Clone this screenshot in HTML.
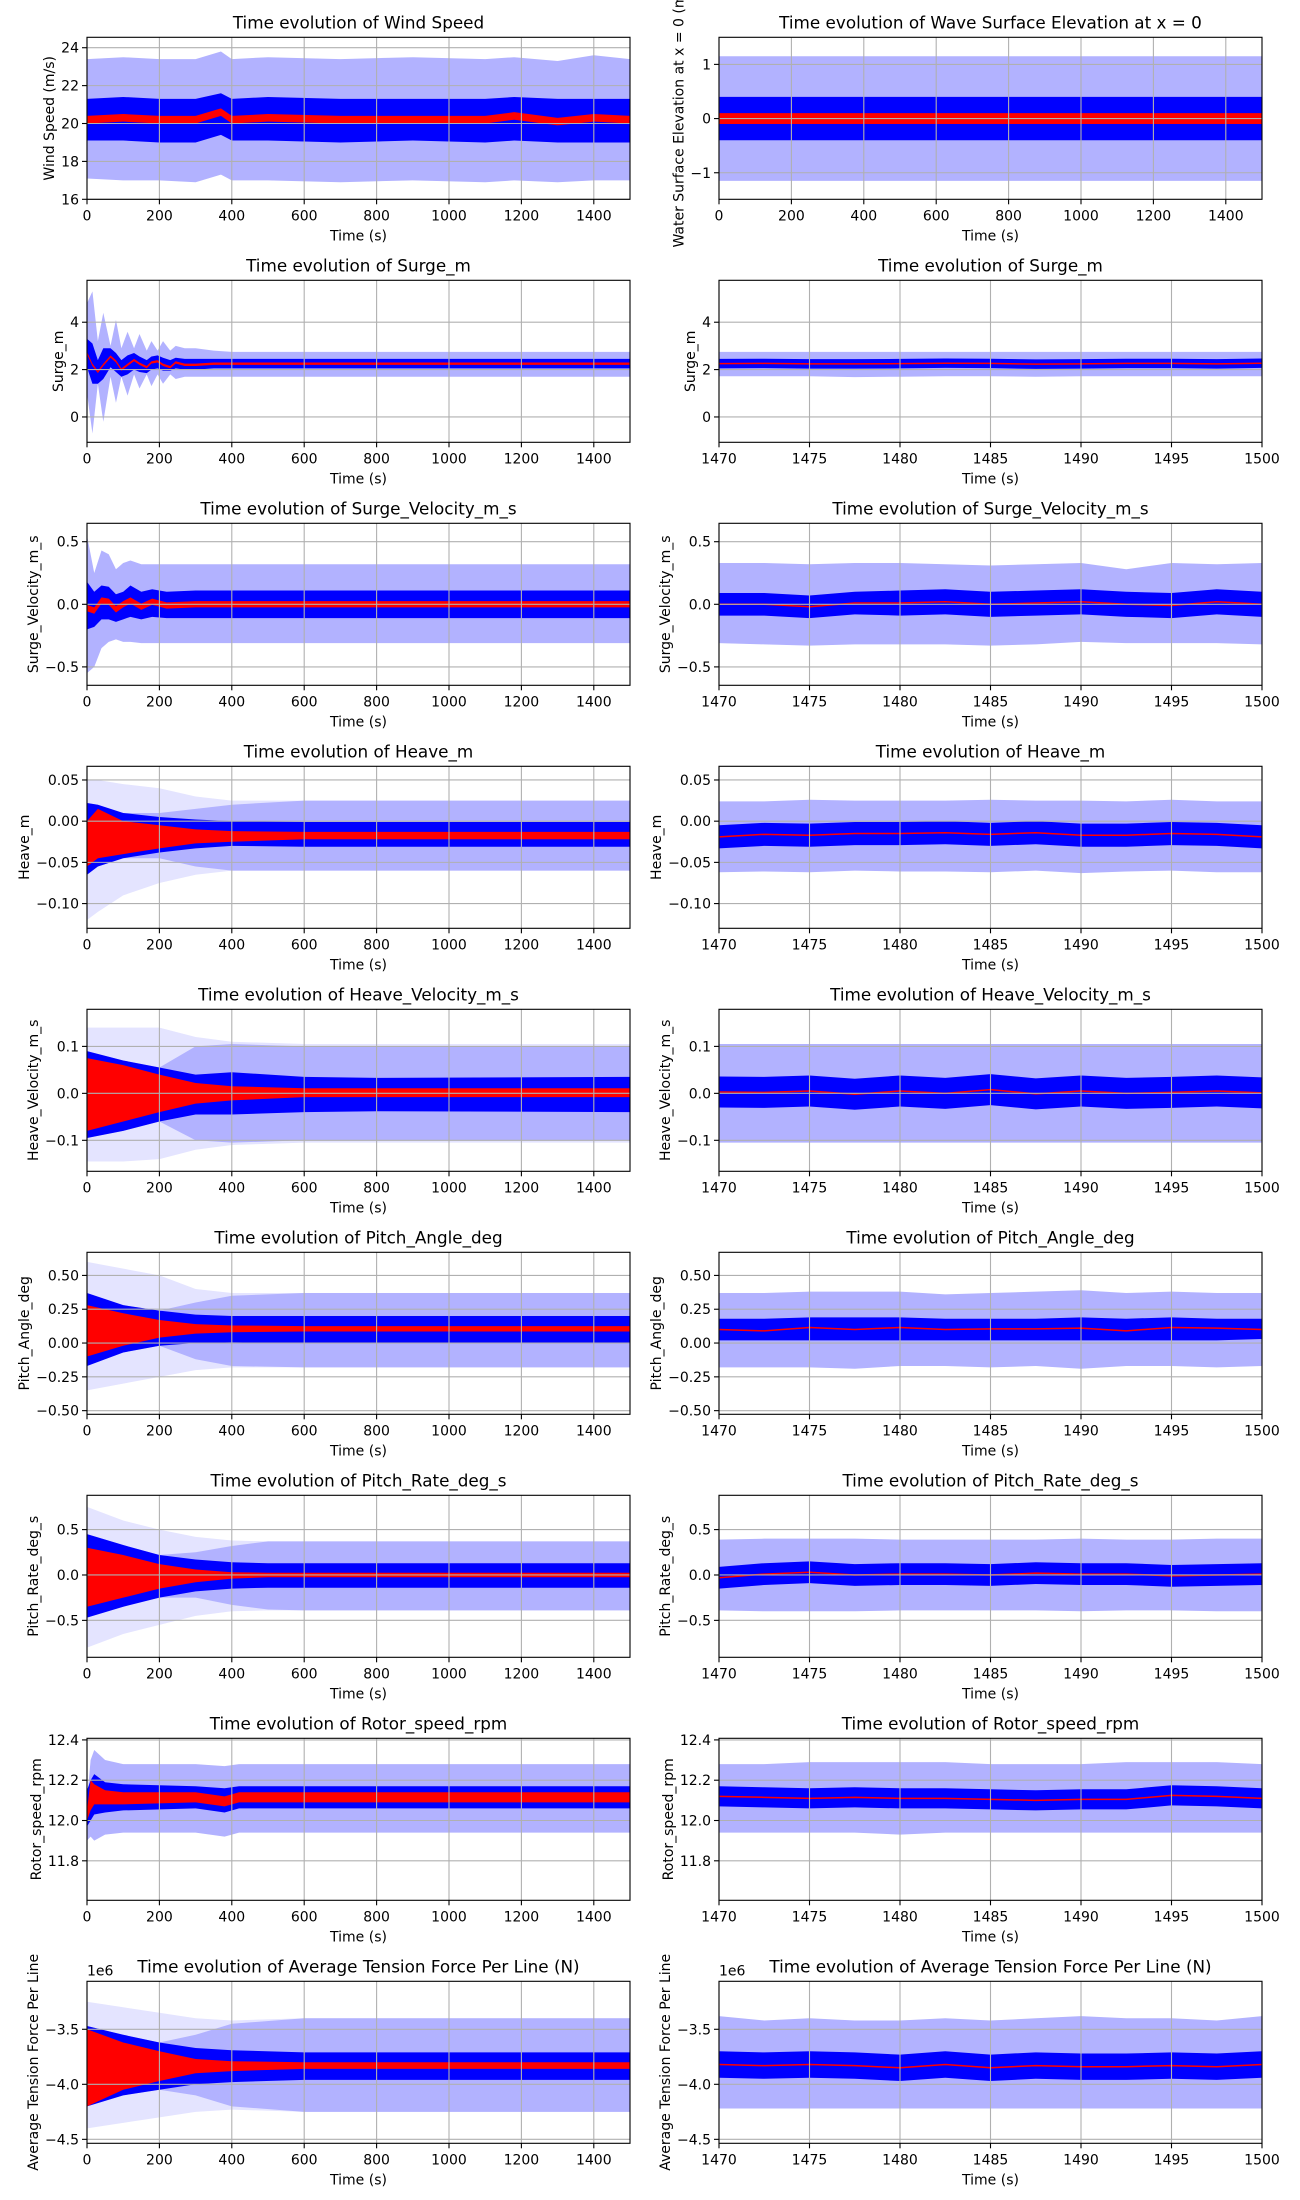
<!DOCTYPE html>
<html><head><meta charset="utf-8">
<style>
html,body{margin:0;padding:0;background:#fff;}
svg{display:block;font-family:"DejaVu Sans","Liberation Sans",sans-serif;}
</style></head>
<body>
<svg id="fig" width="1300" height="2200" viewBox="0 0 1300 2200" xmlns="http://www.w3.org/2000/svg"></svg>
<script>
// ---------- DATA ----------
const tL = [0,20,50,100,150,200,300,400,600,800,1000,1200,1400,1500];
const tR = [1470,1472.5,1475,1477.5,1480,1482.5,1485,1487.5,1490,1492.5,1495,1497.5,1500];

// Wind speed (left)
const windT = [0,100,200,300,370,400,500,700,900,1100,1180,1300,1400,1500];
const windRedHi = [20.4,20.5,20.4,20.4,20.8,20.4,20.5,20.4,20.4,20.4,20.6,20.3,20.5,20.4];
const windRedLo = [20.0,20.1,20.0,20.0,20.4,20.0,20.1,20.0,20.0,20.0,20.2,19.9,20.1,20.0];
const windDarkHi = [21.3,21.4,21.3,21.3,21.6,21.3,21.4,21.3,21.3,21.3,21.4,21.3,21.3,21.3];
const windDarkLo = [19.1,19.1,19.0,19.0,19.4,19.1,19.1,19.0,19.1,19.0,19.1,19.0,19.0,19.0];
const windLightHi = [23.4,23.5,23.4,23.4,23.8,23.4,23.5,23.4,23.5,23.4,23.5,23.3,23.6,23.4];
const windLightLo = [17.1,17.0,17.0,16.9,17.3,17.0,17.0,16.9,17.0,16.9,17.0,16.9,17.0,17.0];

// Wave elevation (right, full time)
const waveT = [0,300,600,900,1200,1500];
const waveRedHi = [0.1,0.1,0.1,0.1,0.1,0.1];
const waveRedLo = [-0.1,-0.1,-0.1,-0.1,-0.1,-0.1];
const waveDarkHi = [0.4,0.4,0.4,0.4,0.4,0.4];
const waveDarkLo = [-0.4,-0.4,-0.4,-0.4,-0.4,-0.4];
const waveLightHi = [1.15,1.15,1.15,1.15,1.15,1.15];
const waveLightLo = [-1.15,-1.15,-1.15,-1.15,-1.15,-1.15];

// Surge (left)
const surgeT = [0,15,30,45,65,80,95,112,130,145,165,178,195,210,230,245,270,300,350,400,800,1500];
const surgeMean = [2.7,2.2,1.9,2.2,2.55,2.35,2.0,2.2,2.4,2.25,2.1,2.3,2.35,2.2,2.1,2.3,2.2,2.2,2.25,2.25,2.25,2.25];
const surgeDarkHi = [3.3,3.1,2.4,2.9,2.9,2.7,2.4,2.6,2.7,2.55,2.4,2.55,2.6,2.5,2.4,2.5,2.45,2.45,2.45,2.45,2.45,2.45];
const surgeDarkLo = [2.1,1.4,1.4,1.6,2.1,1.9,1.7,1.8,2.0,1.9,1.85,2.0,2.05,1.95,1.95,2.05,2.0,2.0,2.05,2.05,2.05,2.05];
const surgeLightHi = [4.8,5.3,3.2,4.4,3.0,4.1,2.9,3.6,2.9,3.5,2.8,3.2,2.8,3.2,2.8,3.0,2.9,2.9,2.8,2.75,2.75,2.75];
const surgeLightLo = [1.0,-0.7,1.4,-0.2,1.7,0.6,1.7,0.9,1.8,1.2,1.8,1.3,1.8,1.4,1.8,1.6,1.7,1.7,1.7,1.7,1.7,1.7];

// Surge velocity (left)
const svT = [0,20,40,60,80,100,120,150,180,220,300,800,1500];
const svMean = [-0.03,-0.05,0.03,0.02,-0.04,0.0,0.03,-0.02,0.02,-0.01,0,0,0];
const svDarkHi = [0.18,0.1,0.15,0.14,0.08,0.1,0.15,0.1,0.12,0.1,0.11,0.11,0.11];
const svDarkLo = [-0.2,-0.18,-0.12,-0.12,-0.14,-0.12,-0.1,-0.12,-0.1,-0.11,-0.11,-0.11,-0.11];
const svLightHi = [0.55,0.25,0.43,0.4,0.28,0.33,0.35,0.32,0.32,0.32,0.32,0.32,0.32];
const svLightLo = [-0.55,-0.5,-0.35,-0.3,-0.28,-0.3,-0.3,-0.31,-0.31,-0.31,-0.31,-0.31,-0.31];

// Heave (left)
const heaveT = [0,30,100,200,300,400,600,1500];
const heaveRedHi = [0.0,0.015,0.0,-0.005,-0.01,-0.012,-0.013,-0.013];
const heaveRedLo = [-0.055,-0.045,-0.04,-0.033,-0.027,-0.025,-0.022,-0.022];
const heaveDarkHi = [0.022,0.02,0.01,0.005,0.002,0.0,-0.001,-0.001];
const heaveDarkLo = [-0.065,-0.055,-0.045,-0.038,-0.033,-0.03,-0.031,-0.031];
const heaveLightHi = [0.022,0.02,0.01,0.01,0.015,0.02,0.025,0.025];
const heaveLightLo = [-0.065,-0.055,-0.045,-0.045,-0.055,-0.06,-0.06,-0.06];
const heaveFaintHi = [0.05,0.05,0.045,0.04,0.03,0.025,0.025,0.025];
const heaveFaintLo = [-0.12,-0.11,-0.09,-0.075,-0.065,-0.06,-0.06,-0.06];

// Heave velocity (left)
const hvT = [0,100,200,300,400,600,800,1500];
const hvRedHi = [0.075,0.06,0.04,0.022,0.015,0.011,0.011,0.011];
const hvRedLo = [-0.08,-0.06,-0.04,-0.022,-0.015,-0.008,-0.008,-0.008];
const hvDarkHi = [0.09,0.07,0.055,0.04,0.045,0.035,0.033,0.035];
const hvDarkLo = [-0.095,-0.08,-0.06,-0.045,-0.045,-0.04,-0.038,-0.04];
const hvLightHi = [0.09,0.07,0.055,0.1,0.105,0.1,0.1,0.1];
const hvLightLo = [-0.095,-0.08,-0.06,-0.1,-0.105,-0.1,-0.1,-0.1];
const hvFaintHi = [0.14,0.14,0.14,0.12,0.11,0.105,0.105,0.105];
const hvFaintLo = [-0.145,-0.145,-0.14,-0.12,-0.11,-0.105,-0.105,-0.105];

// Pitch angle (left)
const paT = [0,100,200,300,400,600,1500];
const paRedHi = [0.28,0.22,0.17,0.14,0.13,0.125,0.125];
const paRedLo = [-0.1,-0.02,0.04,0.07,0.08,0.085,0.085];
const paDarkHi = [0.37,0.28,0.24,0.21,0.2,0.2,0.2];
const paDarkLo = [-0.17,-0.07,-0.02,0.0,0.005,0.0,0.0];
const paLightHi = [0.37,0.28,0.24,0.3,0.35,0.37,0.37];
const paLightLo = [-0.17,-0.07,-0.02,-0.12,-0.17,-0.18,-0.18];
const paFaintHi = [0.6,0.55,0.5,0.4,0.37,0.37,0.37];
const paFaintLo = [-0.35,-0.3,-0.25,-0.2,-0.18,-0.18,-0.18];

// Pitch rate (left)
const prT = [0,100,200,300,400,500,600,1500];
const prRedHi = [0.3,0.22,0.12,0.06,0.03,0.025,0.025,0.025];
const prRedLo = [-0.35,-0.25,-0.15,-0.08,-0.04,-0.025,-0.025,-0.025];
const prDarkHi = [0.45,0.33,0.22,0.17,0.14,0.13,0.13,0.13];
const prDarkLo = [-0.47,-0.35,-0.25,-0.18,-0.15,-0.14,-0.14,-0.14];
const prLightHi = [0.45,0.33,0.22,0.25,0.32,0.37,0.37,0.37];
const prLightLo = [-0.47,-0.35,-0.25,-0.25,-0.33,-0.38,-0.39,-0.39];
const prFaintHi = [0.75,0.6,0.5,0.42,0.38,0.37,0.37,0.37];
const prFaintLo = [-0.8,-0.65,-0.55,-0.45,-0.4,-0.39,-0.39,-0.39];

// Rotor speed (left)
const rsT = [0,10,20,50,100,300,380,420,800,1500];
const rsRedHi = [12.05,12.2,12.18,12.15,12.14,12.14,12.12,12.14,12.14,12.14];
const rsRedLo = [12.0,12.05,12.08,12.08,12.08,12.09,12.07,12.09,12.09,12.09];
const rsDarkHi = [12.15,12.2,12.23,12.19,12.18,12.17,12.16,12.17,12.17,12.17];
const rsDarkLo = [11.97,12.0,12.03,12.04,12.05,12.06,12.04,12.06,12.06,12.06];
const rsLightHi = [12.1,12.3,12.35,12.3,12.28,12.28,12.27,12.28,12.28,12.28];
const rsLightLo = [11.9,11.92,11.9,11.93,11.94,11.94,11.92,11.94,11.94,11.94];

// Tension (left, units 1e6 N)
const tnT = [0,100,200,300,400,600,1500];
const tnRedHi = [-3.5,-3.62,-3.7,-3.77,-3.79,-3.8,-3.8];
const tnRedLo = [-4.2,-4.05,-3.97,-3.9,-3.88,-3.86,-3.86];
const tnDarkHi = [-3.47,-3.55,-3.62,-3.67,-3.69,-3.71,-3.71];
const tnDarkLo = [-4.2,-4.1,-4.05,-4.0,-3.98,-3.96,-3.96];
const tnLightHi = [-3.47,-3.55,-3.62,-3.55,-3.45,-3.4,-3.4];
const tnLightLo = [-4.2,-4.1,-4.05,-4.1,-4.2,-4.25,-4.25];
const tnFaintHi = [-3.25,-3.3,-3.35,-3.4,-3.42,-3.4,-3.4];
const tnFaintLo = [-4.4,-4.35,-4.3,-4.25,-4.23,-4.25,-4.25];

// Right column (1470-1500 s)
const surgeRMean = [2.25,2.26,2.24,2.24,2.25,2.27,2.26,2.23,2.24,2.26,2.26,2.24,2.27];
const surgeRDark = [0.2,0.2,0.2,0.2,0.2,0.2,0.2,0.2,0.2,0.2,0.2,0.2,0.2];
const surgeRLightHi = [2.75,2.75,2.75,2.75,2.75,2.75,2.75,2.75,2.75,2.75,2.75,2.75,2.75];
const surgeRLightLo = [1.72,1.72,1.72,1.68,1.7,1.72,1.72,1.7,1.72,1.72,1.72,1.72,1.72];

const svRMean = [0,0,-0.02,0.01,0.01,0.02,0,0.01,0.02,0.0,-0.01,0.02,0.0];
const svRDark = [0.09,0.09,0.09,0.09,0.1,0.1,0.1,0.1,0.1,0.1,0.1,0.1,0.1];
const svRLightHi = [0.33,0.33,0.32,0.33,0.33,0.32,0.31,0.32,0.33,0.28,0.33,0.32,0.33];
const svRLightLo = [-0.31,-0.32,-0.33,-0.32,-0.32,-0.32,-0.33,-0.32,-0.3,-0.31,-0.31,-0.31,-0.32];

const heaveRMean = [-0.019,-0.016,-0.017,-0.015,-0.015,-0.014,-0.016,-0.014,-0.017,-0.017,-0.015,-0.016,-0.019];
const heaveRDark = [0.014,0.014,0.014,0.014,0.014,0.014,0.014,0.014,0.014,0.014,0.014,0.014,0.014];
const heaveRLightHi = [0.024,0.024,0.026,0.025,0.025,0.025,0.026,0.025,0.025,0.024,0.026,0.024,0.024];
const heaveRLightLo = [-0.062,-0.061,-0.062,-0.06,-0.061,-0.061,-0.062,-0.06,-0.063,-0.061,-0.06,-0.062,-0.062];

const hvRMean = [0.003,0.002,0.005,-0.002,0.005,0.0,0.008,-0.001,0.005,0.0,0.002,0.005,0.001];
const hvRDark = [0.033,0.033,0.033,0.033,0.033,0.033,0.033,0.033,0.033,0.033,0.033,0.033,0.033];
const hvRLight = [0.105,0.105,0.105,0.105,0.105,0.105,0.105,0.105,0.105,0.105,0.105,0.105,0.105];

const paRMean = [0.1,0.09,0.115,0.1,0.115,0.1,0.105,0.105,0.11,0.09,0.115,0.11,0.1];
const paRDarkHi = [0.18,0.18,0.19,0.19,0.19,0.18,0.18,0.18,0.19,0.18,0.19,0.18,0.18];
const paRDarkLo = [0.02,0.02,0.02,0.02,0.02,0.02,0.02,0.02,0.02,0.02,0.02,0.02,0.03];
const paRLightHi = [0.37,0.37,0.38,0.38,0.38,0.36,0.37,0.38,0.39,0.37,0.38,0.37,0.37];
const paRLightLo = [-0.18,-0.18,-0.18,-0.19,-0.17,-0.17,-0.18,-0.17,-0.19,-0.17,-0.17,-0.18,-0.17];

const prRMean = [-0.03,0.01,0.03,0.0,0.01,0.01,0.0,0.02,0.01,0.01,-0.01,0.0,0.01];
const prRDark = [0.12,0.12,0.12,0.12,0.12,0.12,0.12,0.12,0.12,0.12,0.12,0.12,0.12];
const prRLight = [0.39,0.4,0.4,0.4,0.39,0.39,0.39,0.39,0.4,0.39,0.39,0.4,0.4];

const rsRMean = [12.12,12.115,12.11,12.115,12.11,12.11,12.105,12.1,12.105,12.105,12.125,12.12,12.11];
const rsRDark = [0.05,0.05,0.05,0.05,0.05,0.05,0.05,0.05,0.05,0.05,0.05,0.05,0.05];
const rsRLightHi = [12.28,12.28,12.29,12.29,12.29,12.29,12.28,12.28,12.28,12.29,12.29,12.29,12.28];
const rsRLightLo = [11.94,11.94,11.94,11.94,11.93,11.94,11.94,11.94,11.94,11.94,11.94,11.94,11.94];

const tnRMean = [-3.82,-3.83,-3.82,-3.83,-3.85,-3.82,-3.85,-3.83,-3.84,-3.84,-3.83,-3.84,-3.82];
const tnRDark = [0.12,0.12,0.12,0.12,0.12,0.12,0.12,0.12,0.12,0.12,0.12,0.12,0.12];
const tnRLightHi = [-3.38,-3.42,-3.4,-3.42,-3.42,-3.4,-3.42,-3.4,-3.38,-3.4,-3.4,-3.42,-3.38];
const tnRLightLo = [-4.22,-4.22,-4.22,-4.22,-4.22,-4.22,-4.22,-4.22,-4.22,-4.22,-4.22,-4.22,-4.22];

// Tick labels
const xTicksL = [0,200,400,600,800,1000,1200,1400];
const xTicksR = [1470,1475,1480,1485,1490,1495,1500];
const windTicks = [16,18,20,22,24];
const waveTicks = [-1,0,1];
const surgeTicks = [0,2,4];
const svTicks = [-0.5,0.0,0.5];
const heaveTicks = [-0.10,-0.05,0.00,0.05];
const hvTicks = [-0.1,0.0,0.1];
const paTicks = [-0.50,-0.25,0.00,0.25,0.50];
const prTicks = [-0.5,0.0,0.5];
const rsTicks = [11.8,12.0,12.2,12.4];
const tnTicks = [-4.5,-4.0,-3.5];

// ---------- DRAWING ----------
const NS = 'http://www.w3.org/2000/svg';
const svg = document.getElementById('fig');
function el(tag, attrs, parent){ const e=document.createElementNS(NS,tag); for(const k in attrs) e.setAttribute(k,attrs[k]); (parent||svg).appendChild(e); return e; }
const add = (a,b)=>a.map((v,i)=>v+b[i]);
const sub = (a,b)=>a.map((v,i)=>v-b[i]);
const neg = a=>a.map(v=>-v);
function fmt(v,dec){ const s=Math.abs(v).toFixed(dec); return (v<0?'\u2212':'')+s; }

const LEFT=[87,630], RIGHT=[719,1262];
const ROW0=37.3, PITCH=243, H=162;

function panel(cfg){
  const [x0,x1]=cfg.col; const top=ROW0+PITCH*cfg.row, bot=top+H;
  const sx=v=>x0+(v-cfg.xlim[0])/(cfg.xlim[1]-cfg.xlim[0])*(x1-x0);
  const sy=v=>bot-(v-cfg.ylim[0])/(cfg.ylim[1]-cfg.ylim[0])*H;
  const g=el('g',{});
  
  
  const cid='clip'+cfg.name;
  const cp=el('clipPath',{id:cid},g); el('rect',{x:x0,y:top,width:x1-x0,height:H},cp);
  const plot=el('g',{'clip-path':'url(#'+cid+')'},g);
  function band(t,hi,lo,fill,name){
    let d='M'+t.map((v,i)=>sx(v).toFixed(2)+','+sy(hi[i]).toFixed(2)).join('L');
    for(let i=t.length-1;i>=0;i--) d+='L'+sx(t[i]).toFixed(2)+','+sy(lo[i]).toFixed(2);
    const p=el('path',{d:d+'Z',fill:fill},plot);
    
    
  }
  cfg.bands.forEach(b=>band(cfg.t,b.hi,b.lo,b.fill,b.name));
  if(cfg.line){
    const p=el('polyline',{points:cfg.t.map((v,i)=>sx(v).toFixed(2)+','+sy(cfg.line[i]).toFixed(2)).join(' '),fill:'none',stroke:'#ff0000','stroke-width':cfg.lw||1.5},plot);
    
    
  }
  cfg.xt.forEach(v=>el('line',{x1:sx(v),x2:sx(v),y1:top,y2:bot,stroke:'#b0b0b0','stroke-width':1.1},g));
  cfg.yt.forEach(v=>el('line',{x1:x0,x2:x1,y1:sy(v),y2:sy(v),stroke:'#b0b0b0','stroke-width':1.1},g));
  el('rect',{x:x0,y:top,width:x1-x0,height:H,fill:'none',stroke:'#000','stroke-width':1.1},g);
  cfg.xt.forEach(v=>{
    el('line',{x1:sx(v),x2:sx(v),y1:bot,y2:bot+5,stroke:'#000','stroke-width':1.1},g);
    const t=el('text',{x:sx(v),y:bot+21,'text-anchor':'middle','font-size':14},g); t.textContent=String(v);
    
    
  });
  const xl=el('text',{x:(x0+x1)/2,y:bot+41,'text-anchor':'middle','font-size':14},g); xl.textContent='Time (s)';
  
  
  let maxW=0;
  cfg.yt.forEach(v=>{
    el('line',{x1:x0-5,x2:x0,y1:sy(v),y2:sy(v),stroke:'#000','stroke-width':1.1},g);
    const t=el('text',{x:x0-8,y:sy(v)+5,'text-anchor':'end','font-size':14},g); t.textContent=fmt(v,cfg.dec);
    
    
    maxW=Math.max(maxW,t.getComputedTextLength());
  });
  const lx=x0-8-maxW-7;
  const yl=el('text',{x:lx,y:(top+bot)/2,'text-anchor':'middle','font-size':14,transform:'rotate(-90 '+lx+' '+(top+bot)/2+')'},g);
  yl.textContent=cfg.ylabel;
  
  
  const ti=el('text',{x:(x0+x1)/2,y:top-9,'text-anchor':'middle','font-size':16.8},g); ti.textContent=cfg.title;
  
  
  if(cfg.offset){ const o=el('text',{x:x0,y:top-6,'font-size':14},g); o.textContent=cfg.offset;
    
     }
}
const LB='#b2b2ff', DB='#0000ff', RD='#ff0000', FB='#e4e4ff';
function std(hiL,loL,hiD,loD,hiR,loR,fH,fL){
  const b=[];
  if(fH) b.push({hi:fH,lo:fL,fill:FB,name:'faint-band'});
  b.push({hi:hiL,lo:loL,fill:LB,name:'outer-band'});
  b.push({hi:hiD,lo:loD,fill:DB,name:'inner-band'});
  if(hiR) b.push({hi:hiR,lo:loR,fill:RD,name:'mean-band'});
  return b;
}
const XL=[0,1500], XR=[1470,1500];
const T='Time evolution of ';
panel({name:'wind',row:0,col:LEFT,xlim:XL,ylim:[16,24.55],xt:xTicksL,yt:windTicks,dec:0,t:windT,title:T+'Wind Speed',ylabel:'Wind Speed (m/s)',bands:std(windLightHi,windLightLo,windDarkHi,windDarkLo,windRedHi,windRedLo)});
panel({name:'wave',row:0,col:RIGHT,xlim:XL,ylim:[-1.49,1.5],xt:xTicksL,yt:waveTicks,dec:0,t:waveT,title:T+'Wave Surface Elevation at x = 0',ylabel:'Water Surface Elevation at x = 0 (m)',bands:std(waveLightHi,waveLightLo,waveDarkHi,waveDarkLo,waveRedHi,waveRedLo)});
panel({name:'surge-left',row:1,col:LEFT,xlim:XL,ylim:[-1.07,5.77],xt:xTicksL,yt:surgeTicks,dec:0,t:surgeT,title:T+'Surge_m',ylabel:'Surge_m',bands:std(surgeLightHi,surgeLightLo,surgeDarkHi,surgeDarkLo,add(surgeMean,surgeMean.map(()=>0.05)),sub(surgeMean,surgeMean.map(()=>0.05)))});
panel({name:'surge-vel-left',row:2,col:LEFT,xlim:XL,ylim:[-0.647,0.647],xt:xTicksL,yt:svTicks,dec:1,t:svT,title:T+'Surge_Velocity_m_s',ylabel:'Surge_Velocity_m_s',bands:std(svLightHi,svLightLo,svDarkHi,svDarkLo,svMean.map(v=>v+0.025),svMean.map(v=>v-0.025))});
panel({name:'heave-left',row:3,col:LEFT,xlim:XL,ylim:[-0.13,0.0666],xt:xTicksL,yt:heaveTicks,dec:2,t:heaveT,title:T+'Heave_m',ylabel:'Heave_m',bands:std(heaveLightHi,heaveLightLo,heaveDarkHi,heaveDarkLo,heaveRedHi,heaveRedLo,heaveFaintHi,heaveFaintLo)});
panel({name:'heave-vel-left',row:4,col:LEFT,xlim:XL,ylim:[-0.166,0.179],xt:xTicksL,yt:hvTicks,dec:1,t:hvT,title:T+'Heave_Velocity_m_s',ylabel:'Heave_Velocity_m_s',bands:std(hvLightHi,hvLightLo,hvDarkHi,hvDarkLo,hvRedHi,hvRedLo,hvFaintHi,hvFaintLo)});
panel({name:'pitch-left',row:5,col:LEFT,xlim:XL,ylim:[-0.527,0.671],xt:xTicksL,yt:paTicks,dec:2,t:paT,title:T+'Pitch_Angle_deg',ylabel:'Pitch_Angle_deg',bands:std(paLightHi,paLightLo,paDarkHi,paDarkLo,paRedHi,paRedLo,paFaintHi,paFaintLo)});
panel({name:'pitch-rate-left',row:6,col:LEFT,xlim:XL,ylim:[-0.907,0.878],xt:xTicksL,yt:prTicks,dec:1,t:prT,title:T+'Pitch_Rate_deg_s',ylabel:'Pitch_Rate_deg_s',bands:std(prLightHi,prLightLo,prDarkHi,prDarkLo,prRedHi,prRedLo,prFaintHi,prFaintLo)});
panel({name:'rotor-left',row:7,col:LEFT,xlim:XL,ylim:[11.604,12.408],xt:xTicksL,yt:rsTicks,dec:1,t:rsT,title:T+'Rotor_speed_rpm',ylabel:'Rotor_speed_rpm',bands:std(rsLightHi,rsLightLo,rsDarkHi,rsDarkLo,rsRedHi,rsRedLo)});
panel({name:'tension-left',row:8,col:LEFT,xlim:XL,ylim:[-4.536,-3.064],xt:xTicksL,yt:tnTicks,dec:1,t:tnT,title:T+'Average Tension Force Per Line (N)',ylabel:'Average Tension Force Per Line',offset:'1e6',bands:std(tnLightHi,tnLightLo,tnDarkHi,tnDarkLo,tnRedHi,tnRedLo,tnFaintHi,tnFaintLo)});
panel({name:'surge-right',row:1,col:RIGHT,xlim:XR,ylim:[-1.07,5.77],xt:xTicksR,yt:surgeTicks,dec:0,t:tR,title:T+'Surge_m',ylabel:'Surge_m',line:surgeRMean,bands:std(surgeRLightHi,surgeRLightLo,add(surgeRMean,surgeRDark),sub(surgeRMean,surgeRDark))});
panel({name:'surge-vel-right',row:2,col:RIGHT,xlim:XR,ylim:[-0.647,0.647],xt:xTicksR,yt:svTicks,dec:1,t:tR,title:T+'Surge_Velocity_m_s',ylabel:'Surge_Velocity_m_s',line:svRMean,bands:std(svRLightHi,svRLightLo,add(svRMean,svRDark),sub(svRMean,svRDark))});
panel({name:'heave-right',row:3,col:RIGHT,xlim:XR,ylim:[-0.13,0.0666],xt:xTicksR,yt:heaveTicks,dec:2,t:tR,title:T+'Heave_m',ylabel:'Heave_m',line:heaveRMean,bands:std(heaveRLightHi,heaveRLightLo,add(heaveRMean,heaveRDark),sub(heaveRMean,heaveRDark))});
panel({name:'heave-vel-right',row:4,col:RIGHT,xlim:XR,ylim:[-0.166,0.179],xt:xTicksR,yt:hvTicks,dec:1,t:tR,title:T+'Heave_Velocity_m_s',ylabel:'Heave_Velocity_m_s',line:hvRMean,bands:std(hvRLight,neg(hvRLight),add(hvRMean,hvRDark),sub(hvRMean,hvRDark))});
panel({name:'pitch-right',row:5,col:RIGHT,xlim:XR,ylim:[-0.527,0.671],xt:xTicksR,yt:paTicks,dec:2,t:tR,title:T+'Pitch_Angle_deg',ylabel:'Pitch_Angle_deg',line:paRMean,bands:std(paRLightHi,paRLightLo,paRDarkHi,paRDarkLo)});
panel({name:'pitch-rate-right',row:6,col:RIGHT,xlim:XR,ylim:[-0.907,0.878],xt:xTicksR,yt:prTicks,dec:1,t:tR,title:T+'Pitch_Rate_deg_s',ylabel:'Pitch_Rate_deg_s',line:prRMean,bands:std(prRLight,neg(prRLight),add(prRMean,prRDark),sub(prRMean,prRDark))});
panel({name:'rotor-right',row:7,col:RIGHT,xlim:XR,ylim:[11.604,12.408],xt:xTicksR,yt:rsTicks,dec:1,t:tR,title:T+'Rotor_speed_rpm',ylabel:'Rotor_speed_rpm',line:rsRMean,bands:std(rsRLightHi,rsRLightLo,add(rsRMean,rsRDark),sub(rsRMean,rsRDark))});
panel({name:'tension-right',row:8,col:RIGHT,xlim:XR,ylim:[-4.536,-3.064],xt:xTicksR,yt:tnTicks,dec:1,t:tR,title:T+'Average Tension Force Per Line (N)',ylabel:'Average Tension Force Per Line',offset:'1e6',line:tnRMean,bands:std(tnRLightHi,tnRLightLo,add(tnRMean,tnRDark),sub(tnRMean,tnRDark))});
</script>
</body></html>
